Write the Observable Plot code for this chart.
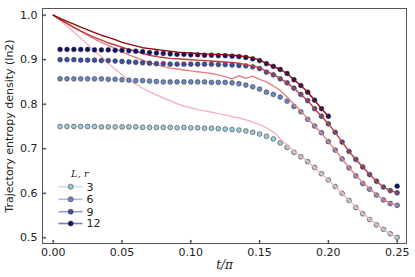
<!DOCTYPE html>
<html><head><meta charset="utf-8">
<script src="https://cdn.jsdelivr.net/npm/d3@7"></script>
<script src="https://cdn.jsdelivr.net/npm/@observablehq/plot@0.6"></script>
<style>
body{margin:0;background:#fff;}
#wrap{position:relative;width:415px;height:277px;}
#legend{position:absolute;left:0;top:0;}
</style></head>
<body><div id="wrap"></div>
<script>
const tGrid = [0,0.005,0.01,0.015,0.02,0.025,0.03,0.035,0.04,0.045,0.05,0.055,0.06,0.065,0.07,0.075,0.08,0.085,0.09,0.095,0.1,0.105,0.11,0.115,0.12,0.125,0.13,0.135,0.14,0.145,0.15,0.155,0.16,0.165,0.17,0.175,0.18,0.185,0.19,0.195,0.2,0.205,0.21,0.215,0.22,0.225,0.23,0.235,0.24,0.245,0.25];
const tMarkers = tGrid.slice(1);
const Lvalues = ["3","6","9","12"];

const m3 = [0.750,0.750,0.750,0.750,0.750,0.750,0.749,0.749,0.749,0.749,
0.749,0.749,0.748,0.748,0.748,0.748,0.748,0.747,0.748,0.747,
0.747,0.746,0.746,0.745,0.744,0.743,0.742,0.740,0.737,0.733,
0.728,0.722,0.713,0.703,0.692,0.682,0.671,0.658,0.644,0.630,
0.615,0.600,0.584,0.568,0.554,0.541,0.529,0.519,0.509,0.501];
const m6 = [0.857,0.857,0.857,0.857,0.857,0.857,0.857,0.856,0.856,0.855,
0.854,0.853,0.853,0.852,0.851,0.850,0.850,0.850,0.850,0.850,
0.850,0.850,0.849,0.849,0.849,0.848,0.846,0.843,0.839,0.834,
0.827,0.822,0.816,0.807,0.795,0.783,0.766,0.751,0.736,0.716,
0.697,0.677,0.657,0.639,0.622,0.609,0.596,0.585,0.577,0.573];
const m9 = [0.900,0.900,0.900,0.899,0.899,0.899,0.898,0.898,0.897,0.896,
0.895,0.894,0.893,0.892,0.891,0.891,0.890,0.890,0.890,0.890,
0.890,0.890,0.890,0.889,0.889,0.888,0.887,0.886,0.884,0.880,
0.872,0.866,0.857,0.848,0.836,0.822,0.808,0.790,0.773,0.756,
0.737,0.715,0.694,0.676,0.659,0.642,0.627,0.614,0.606,0.601];
const m12 = [0.923,0.923,0.923,0.923,0.923,0.922,0.922,0.922,0.921,0.921,
0.920,0.919,0.918,0.916,0.915,0.914,0.913,0.912,0.912,0.911,
0.911,0.910,0.910,0.909,0.909,0.908,0.907,0.905,0.902,0.898,
0.891,0.885,0.878,0.869,0.855,0.842,0.827,0.809,0.790,0.773,
null,null,null,null,null,null,null,null,null,0.616];

const l3 = [1.000,0.988,0.975,0.962,0.948,0.934,0.920,0.906,0.892,0.879,0.866,
0.855,0.845,0.836,0.828,0.821,0.814,0.808,0.801,0.796,0.792,
0.788,0.785,0.782,0.779,0.776,0.772,0.769,0.765,0.760,0.754,
0.747,0.738,0.722,0.708,0.694,0.683,0.671,0.658,0.644,0.630,
0.615,0.600,0.584,0.569,0.555,0.542,0.530,0.519,0.509,0.500];
const l6 = [1.000,0.991,0.982,0.973,0.964,0.955,0.947,0.939,0.932,0.925,0.918,
0.911,0.905,0.899,0.893,0.889,0.885,0.881,0.879,0.877,0.875,
0.873,0.871,0.869,0.866,0.862,0.857,0.864,0.858,0.863,0.856,
0.850,0.841,0.831,0.816,0.800,0.785,0.767,0.751,0.735,0.716,
0.697,0.677,0.658,0.640,0.624,0.610,0.597,0.586,0.578,0.573];
const l9 = [1.000,0.990,0.981,0.972,0.964,0.957,0.950,0.944,0.938,0.933,0.928,
0.923,0.919,0.914,0.910,0.907,0.905,0.903,0.902,0.901,0.900,
0.899,0.898,0.897,0.896,0.895,0.894,0.892,0.889,0.886,0.882,
0.874,0.867,0.858,0.848,0.836,0.822,0.808,0.790,0.773,0.756,
0.737,0.715,0.694,0.676,0.659,0.642,0.627,0.614,0.606,0.601];
const l12 = [1.000,0.993,0.986,0.980,0.973,0.967,0.961,0.955,0.950,0.945,0.939,
0.935,0.931,0.927,0.925,0.923,0.921,0.919,0.917,0.916,0.915,
0.914,0.913,0.912,0.912,0.911,0.910,0.909,0.907,0.904,0.899,
0.892,0.885,0.878,0.869,0.855,0.842,0.827,0.809,0.790,0.773,
null,null,null,null,null,null,null,null,null,null];

const xTicks = [0,0.05,0.1,0.15,0.2,0.25];
const yTicks = [0.5,0.6,0.7,0.8,0.9,1.0];
const xDomain = [-0.0078, 0.2568];
const yDomain = [0.4872, 1.015];

const markerColors = ["#9ccbd9","#6886c6","#3a4ea6","#0c0f6c"];
const lineColors = ["#f7b3bf","#e57f87","#c43c3c","#8c0c0c"];
const markerSeries = [m3,m6,m9,m12];
const lineSeries = [l3,l6,l9,l12];

const marks = [];
for (let i = 0; i < 4; i++) {
  const mRows = tMarkers.map((t,j)=>({t, v: markerSeries[i][j]})).filter(d=>d.v!=null);
  const lRows = tGrid.map((t,j)=>({t, v: lineSeries[i][j]})).filter(d=>d.v!=null);
  marks.push(Plot.dot(mRows,{x:"t",y:"v",r:2.4,fill:markerColors[i],stroke:"#3a3a3a",strokeWidth:0.6}));
  marks.push(Plot.line(lRows,{x:"t",y:"v",stroke:lineColors[i],strokeWidth:1.4}));
}

const chart = Plot.plot({
  width:415, height:277,
  marginLeft:42, marginRight:9, marginTop:8, marginBottom:34,
  style:{fontFamily:"DejaVu Sans", fontSize:"11px", color:"#222", background:"#fff"},
  x:{domain:xDomain},
  y:{domain:yDomain},
  marks:[
    ...marks,
    Plot.frame({stroke:"#555", strokeWidth:1}),
    Plot.axisX(xTicks,{tickSize:0, tickPadding:5, tickFormat:d3.format(".2f"), label:null, fontSize:11}),
    Plot.axisY(yTicks,{tickSize:0, tickPadding:5, tickFormat:d3.format(".1f"), label:null, fontSize:11}),
    Plot.vector(xTicks,{x:d=>d, y:yDomain[0], length:3, rotate:0, anchor:"start", stroke:"#333", strokeWidth:1}),
    Plot.vector(yTicks,{x:xDomain[0], y:d=>d, length:3, rotate:90, anchor:"start", stroke:"#333", strokeWidth:1}),
    Plot.text(["Trajectory entropy density (ln2)"],{frameAnchor:"left", textAnchor:"middle", rotate:-90, dx:-33, fontSize:11, fill:"#222"}),
    Plot.text(["t/π"],{frameAnchor:"bottom", dy:25, fontSize:12, fontStyle:"italic", fontFamily:"DejaVu Serif", fill:"#222"})
  ]
});
const wrap = document.getElementById("wrap");
wrap.appendChild(chart);

// legend overlay
const lg = d3.select(wrap).append("svg").attr("id","legend").attr("width",415).attr("height",277)
  .style("font-family","DejaVu Sans").style("font-size","11px");
lg.append("text").attr("x",80).attr("y",176.5).attr("text-anchor","middle")
  .style("font-family","DejaVu Serif").style("font-style","italic").style("font-size","10px").attr("fill","#222").text("L, r");
const rowY = [186.7,199.3,211.7,223.5];
Lvalues.forEach((L,i)=>{
  const g = lg.append("g");
  g.append("line").attr("x1",58.5).attr("x2",82.5).attr("y1",rowY[i]).attr("y2",rowY[i])
    .attr("stroke",markerColors[i]).attr("stroke-opacity",0.55).attr("stroke-width",1.6);
  g.append("circle").attr("cx",70.7).attr("cy",rowY[i]).attr("r",2.5)
    .attr("fill",markerColors[i]).attr("stroke","#3a3a3a").attr("stroke-width",0.6);
  g.append("text").attr("x",86.5).attr("y",rowY[i]).attr("dy","0.36em").attr("fill","#222").text(L);
});
</script></body></html>
